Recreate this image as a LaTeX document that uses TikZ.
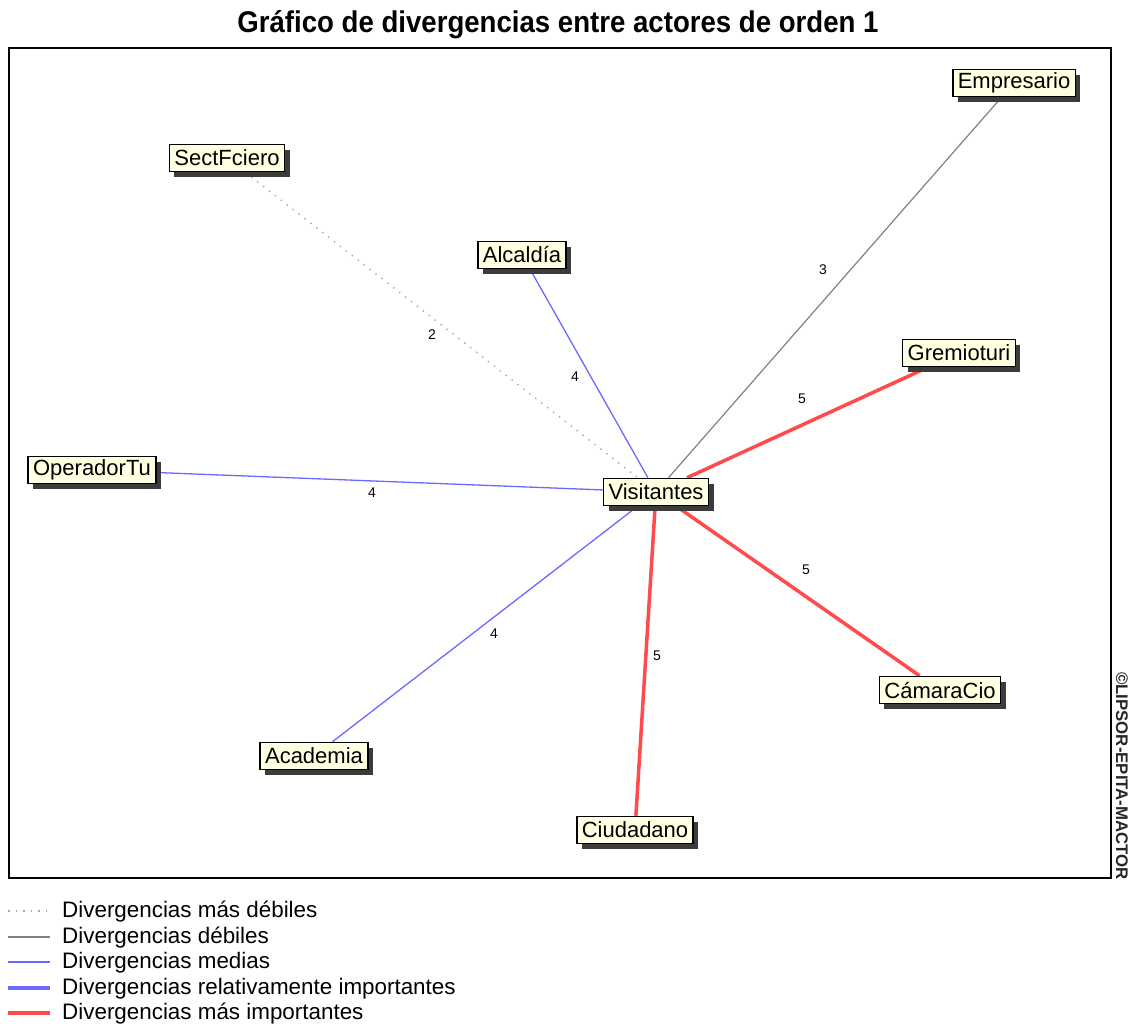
\documentclass[tikz,border=0pt]{standalone}
\usepackage{fontspec}
\setmainfont{Liberation Sans}
\usetikzlibrary{shadows,backgrounds}
\definecolor{boxfill}{HTML}{FFFFE1}
\definecolor{medblue}{HTML}{6A6AFF}
\definecolor{impred}{HTML}{FF4B4B}
\definecolor{weakgray}{HTML}{808080}
\definecolor{dotgray}{HTML}{A8A8A8}
\definecolor{shadowgray}{HTML}{3C3C3C}
\begin{document}
\begin{tikzpicture}[x=1pt,y=-1pt,
  actor/.style={draw=black, line width=1.5pt, fill=boxfill,
    font=\fontsize{22}{22}\selectfont, inner xsep=5pt, inner ysep=1pt,
    minimum height=27pt,
    drop shadow={shadow xshift=5pt, shadow yshift=-5pt, fill=shadowgray, opacity=1}},
  weakest/.style={dotgray, line width=1.3pt, dash pattern=on 1.5pt off 6pt},
  weak/.style={weakgray, line width=1.2pt},
  medium/.style={medblue, line width=1.3pt},
  relimp/.style={medblue, line width=3.5pt},
  strong/.style={impred, line width=3.5pt},
  lbl/.style={font=\fontsize{14}{14}\selectfont, inner sep=1pt},
  legtext/.style={anchor=west, font=\fontsize{22.4}{22.4}\selectfont, inner sep=0pt}]
\useasboundingbox (0,0) rectangle (1129,1028);

% title
\node (title) at (558,25) {\scalebox{0.92}[1]{\fontsize{30}{30}\selectfont\bfseries Gráfico de divergencias entre actores de orden 1}};

% frame
\draw[line width=1.5pt] (9,48) rectangle (1111,878);

% actors
\node[actor] (emp)  at (1014,83)  {Empresario};
\node[actor] (sect) at (227,158)  {SectFciero};
\node[actor] (alc)  at (522,255)  {Alcaldía};
\node[actor] (grem) at (959,353)  {Gremioturi};
\node[actor] (op)   at (92,470)   {OperadorTu};
\node[actor] (vis)  at (656,492)  {Visitantes};
\node[actor] (cam)  at (940,690)  {CámaraCio};
\node[actor] (aca)  at (314,756)  {Academia};
\node[actor] (ciu)  at (635,830)  {Ciudadano};

% connectors
\begin{scope}[on background layer]
\draw[weakest] (sect) -- (vis);
\draw[weak]    (emp)  -- (vis);
\draw[medium]  (alc)  -- (vis);
\draw[medium]  (op)   -- (vis);
\draw[medium]  (aca)  -- (vis);
\draw[strong]  (grem) -- (vis);
\draw[strong]  (cam)  -- (vis);
\draw[strong]  (ciu)  -- (vis);
\end{scope}

% edge labels
\node[lbl] (l3)  at (823,270) {3};
\node[lbl] (l2)  at (432,335) {2};
\node[lbl] (l4a) at (575,377) {4};
\node[lbl] (l5a) at (802,399) {5};
\node[lbl] (l4b) at (372,493) {4};
\node[lbl] (l4c) at (494,634) {4};
\node[lbl] (l5b) at (806,570) {5};
\node[lbl] (l5c) at (657,656) {5};

% watermark
\node[rotate=-90, font=\fontsize{16.8}{16.8}\selectfont\bfseries, text=black!85] (wm) at (1122,776) {©LIPSOR-EPITA-MACTOR};

% legend
\coordinate (a1) at (8,911);  \coordinate (b1) at (50,911);
\coordinate (a2) at (8,937);  \coordinate (b2) at (50,937);
\coordinate (a3) at (8,962);  \coordinate (b3) at (50,962);
\coordinate (a4) at (8,988);  \coordinate (b4) at (50,988);
\coordinate (a5) at (8,1013); \coordinate (b5) at (50,1013);
\draw[weakest] (a1) -- (b1);
\draw[weak]    (a2) -- (b2);
\draw[medium]  (a3) -- (b3);
\draw[relimp]  (a4) -- (b4);
\draw[strong]  (a5) -- (b5);
\node[legtext] (t1) at (62,912)  {Divergencias más débiles};
\node[legtext] (t2) at (62,938)  {Divergencias débiles};
\node[legtext] (t3) at (62,963)  {Divergencias medias};
\node[legtext] (t4) at (62,989)  {Divergencias relativamente importantes};
\node[legtext] (t5) at (62,1014) {Divergencias más importantes};
\end{tikzpicture}
\end{document}
